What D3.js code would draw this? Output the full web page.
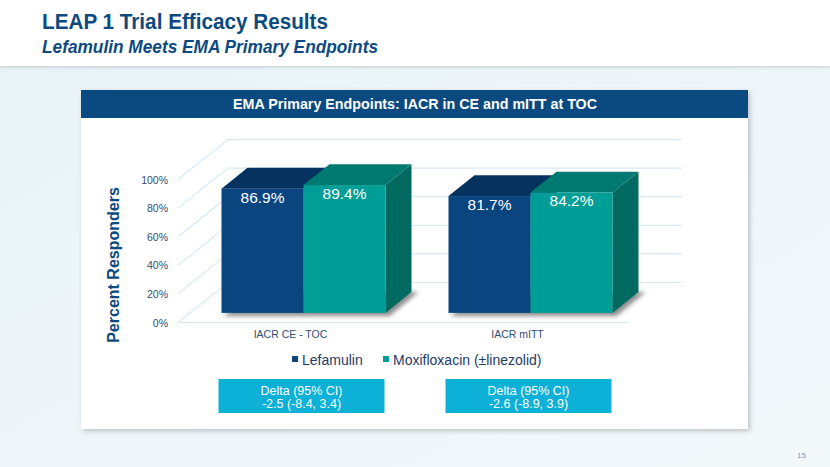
<!DOCTYPE html>
<html><head><meta charset="utf-8">
<script src="https://cdn.jsdelivr.net/npm/d3@7"></script>
<style>html,body{margin:0;padding:0;overflow:hidden;background:#fff}</style>
</head><body>
<svg id="c" width="830" height="467"></svg>
<script>
const categories = ["IACR CE - TOC", "IACR mITT"];
const seriesNames = ["Lefamulin", "Moxifloxacin (±linezolid)"];
const lefamulin = [86.9, 81.7];
const moxifloxacin = [89.4, 84.2];
const valueLabels = [["86.9%", "81.7%"], ["89.4%", "84.2%"]];
const yTicks = [0, 20, 40, 60, 80, 100];
const deltaHeader = ["Delta (95% CI)", "Delta (95% CI)"];
const deltaValues = ["-2.5 (-8.4, 3.4)", "-2.6 (-8.9, 3.9)"];

const series = [lefamulin, moxifloxacin];
const faceColors = [
  {front: "#0b4580", top: "#06325f", side: "#06325f"},
  {front: "#009e96", top: "#007a70", side: "#006a61"}
];

const svg = d3.select("#c");
const defs = svg.append("defs");
const bg = defs.append("linearGradient").attr("id","bg").attr("x1",0).attr("y1",0).attr("x2",1).attr("y2",1);
bg.append("stop").attr("offset","0%").attr("stop-color","#e8f3f7");
bg.append("stop").attr("offset","100%").attr("stop-color","#f3f8fb");
const sh = defs.append("filter").attr("id","psh").attr("x","-5%").attr("y","-5%").attr("width","110%").attr("height","115%");
sh.append("feDropShadow").attr("dx",2).attr("dy",2).attr("stdDeviation",2.5).attr("flood-color","#000").attr("flood-opacity",0.22);
const hs = defs.append("filter").attr("id","hsh").attr("x","-5%").attr("y","-20%").attr("width","110%").attr("height","150%");
hs.append("feDropShadow").attr("dx",0).attr("dy",1.5).attr("stdDeviation",1.5).attr("flood-color","#000").attr("flood-opacity",0.15);
const bl = defs.append("filter").attr("id","blur").attr("x","-20%").attr("y","-50%").attr("width","140%").attr("height","200%");
bl.append("feGaussianBlur").attr("stdDeviation",2.2);

// page background
svg.append("rect").attr("width",830).attr("height",467).attr("fill","url(#bg)");
svg.append("rect").attr("width",830).attr("height",66).attr("fill","#fff").attr("filter","url(#hsh)");

svg.append("text").attr("x",42).attr("y",29)
  .attr("font-family","Liberation Sans, Arial, sans-serif").attr("font-weight","bold").attr("font-size",21.5)
  .attr("fill","#0d4a80").attr("textLength",286).attr("lengthAdjust","spacingAndGlyphs")
  .text("LEAP 1 Trial Efficacy Results");
svg.append("text").attr("x",42).attr("y",53)
  .attr("font-family","Liberation Sans, Arial, sans-serif").attr("font-weight","bold").attr("font-style","italic").attr("font-size",17.5)
  .attr("fill","#0d4a80").attr("textLength",336).attr("lengthAdjust","spacingAndGlyphs")
  .text("Lefamulin Meets EMA Primary Endpoints");

// panel
svg.append("rect").attr("x",81).attr("y",90).attr("width",667).attr("height",339).attr("fill","#fff").attr("filter","url(#psh)");
svg.append("rect").attr("x",81).attr("y",90).attr("width",667).attr("height",28).attr("fill","#0b4a80");
svg.append("text").attr("x",415).attr("y",109).attr("text-anchor","middle")
  .attr("font-family","Liberation Sans, Arial, sans-serif").attr("font-weight","bold").attr("font-size",14)
  .attr("fill","#fff").attr("textLength",364).attr("lengthAdjust","spacingAndGlyphs")
  .text("EMA Primary Endpoints: IACR in CE and mITT at TOC");

// 3D chart
const DX = 50, DY = -40;
const y = d3.scaleLinear().domain([0, 100]).range([322.5, 179.5]);
const x = d3.scaleBand().domain(categories).range([178, 632]);
const inner = d3.scaleBand().domain(seriesNames).range([0, 164]);
const P = (px, py, d) => [px + DX * d, py + DY * d];
const d0 = 0.24, d1 = 0.76;

const grid = svg.append("g");
yTicks.forEach(t => {
  const a = P(x.range()[0], y(t), 0), b = P(x.range()[0], y(t), 1), c = P(x.range()[1], y(t), 1);
  grid.append("polyline").attr("points",[a,b,c].map(p=>p.join(",")).join(" "))
    .attr("fill","none").attr("stroke","#d5e9f6").attr("stroke-width",1.2);
});
grid.append("line").attr("x1",x.range()[0]).attr("x2",x.range()[1]-3).attr("y1",y(0)).attr("y2",y(0))
  .attr("stroke","#d5e9f6").attr("stroke-width",1.2);

// y axis tick labels
svg.append("g").selectAll("text").data(yTicks).join("text")
  .attr("x",168).attr("y",t=>y(t)+4).attr("text-anchor","end")
  .attr("font-family","Liberation Sans, Arial, sans-serif").attr("font-size",10.5).attr("fill","#2e4d73")
  .text(t=>t+"%");

svg.append("text").attr("transform","translate(119,265) rotate(-90)").attr("text-anchor","middle")
  .attr("font-family","Liberation Sans, Arial, sans-serif").attr("font-weight","bold").attr("font-size",16)
  .attr("fill","#0d4a80").text("Percent Responders");

// category labels
svg.append("g").selectAll("text").data(categories).join("text")
  .attr("x",c=>x(c)+x.bandwidth()/2-1).attr("y",338).attr("text-anchor","middle")
  .attr("font-family","Liberation Sans, Arial, sans-serif").attr("font-size",10.5).attr("fill","#2e4d73")
  .text(c=>c);

const poly = pts => pts.map(p=>p.join(",")).join(" ");
const bars = svg.append("g");
categories.forEach((cat, ci) => {
  const gx = x(cat) + x.bandwidth()/2 - inner.range()[1]/2;
  // shadow on floor
  const sx0 = gx + 2, sx1 = gx + inner.range()[1] + 4;
  const s = [P(sx0, y(0)+3, d0), P(sx1, y(0)+3, d0), P(sx1+3, y(0), d1), P(sx0+3, y(0), d1)];
  bars.append("polygon").attr("points",poly(s)).attr("fill","#333").attr("opacity",0.55).attr("filter","url(#blur)");
  seriesNames.forEach((sn, si) => {
    const v = series[si][ci];
    const xl = gx + inner(sn), xr = xl + inner.bandwidth();
    const yt = y(v), yb = y(0);
    const col = faceColors[si];
    bars.append("polygon").attr("points",poly([P(xr,yb,d0),P(xr,yb,d1),P(xr,yt,d1),P(xr,yt,d0)])).attr("fill",col.side);
    bars.append("polygon").attr("points",poly([P(xl,yt,d0),P(xr,yt,d0),P(xr,yt,d1),P(xl,yt,d1)])).attr("fill",col.top);
    const f0 = P(xl, yt, d0), f1 = P(xr, yb, d0);
    bars.append("rect").attr("x",f0[0]).attr("y",f0[1]).attr("width",f1[0]-f0[0]).attr("height",f1[1]-f0[1]).attr("fill",col.front);
    bars.append("text").attr("x",(f0[0]+f1[0])/2).attr("y",f0[1]+14).attr("text-anchor","middle")
      .attr("font-family","Liberation Sans, Arial, sans-serif").attr("font-size",15.5).attr("fill","#fff")
      .text(valueLabels[si][ci]);
  });
  // delta box
  const cx = x(cat) + x.bandwidth()/2 + 10;
  bars.append("rect").attr("x",cx-83).attr("y",379).attr("width",166).attr("height",34).attr("fill","#0db0d6");
  bars.append("text").attr("x",cx).attr("y",395).attr("text-anchor","middle")
    .attr("font-family","Liberation Sans, Arial, sans-serif").attr("font-size",12.5).attr("fill","#fff").text(deltaHeader[ci]);
  bars.append("text").attr("x",cx).attr("y",407.5).attr("text-anchor","middle")
    .attr("font-family","Liberation Sans, Arial, sans-serif").attr("font-size",12.5).attr("fill","#fff").text(deltaValues[ci]);
});

// legend
const leg = svg.append("g");
const legX = [292, 383];
seriesNames.forEach((sn, si) => {
  leg.append("rect").attr("x",legX[si]).attr("y",356).attr("width",6).attr("height",6).attr("fill",faceColors[si].front);
  leg.append("text").attr("x",legX[si]+10).attr("y",364.5)
    .attr("font-family","Liberation Sans, Arial, sans-serif").attr("font-size",14).attr("fill","#1f3c66").text(sn);
});

svg.append("text").attr("x",806).attr("y",458).attr("text-anchor","end")
  .attr("font-family","Liberation Sans, Arial, sans-serif").attr("font-size",8).attr("fill","#8595b0").text("15");
</script>
</body></html>
